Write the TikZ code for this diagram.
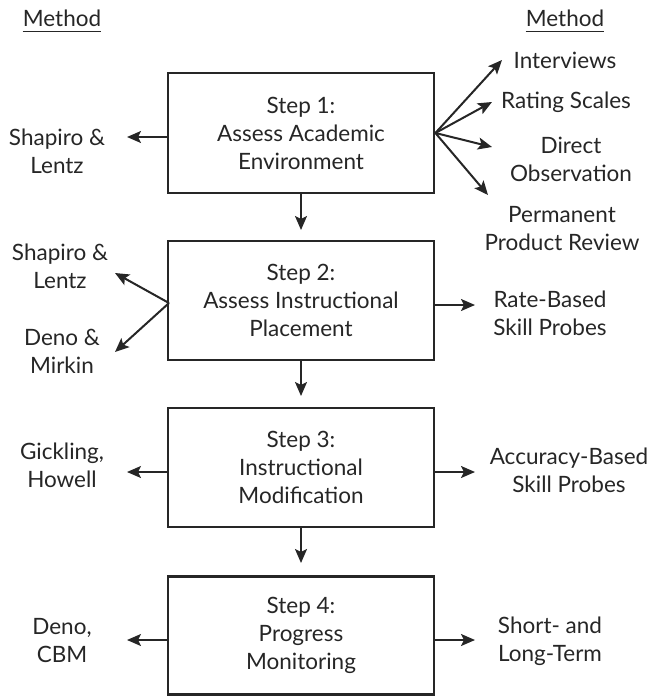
\documentclass[tikz,border=0pt]{standalone}
\usepackage{fontspec}
\setmainfont{Lato}
\usetikzlibrary{arrows.meta}
\begin{document}
\begin{tikzpicture}[x=1pt,y=-1pt,
  every node/.style={font=\fontsize{22.5}{28}\selectfont, text=black!85, align=center, inner sep=0pt},
  stepbox/.style={draw=black!85, line width=2.8pt, minimum width=266pt, inner sep=0pt},
  arr/.style={draw=black!85, line width=2pt, -{Stealth[length=14pt,width=12pt,inset=3pt]}}]
\useasboundingbox (0,0) rectangle (653,696);
% boxes
\node[stepbox, minimum height=120pt] (s1) at (301,133) {Step 1:\\Assess Academic\\Environment};
\node[stepbox, minimum height=119pt] (s2) at (301,300.5) {Step 2:\\Assess Instructional\\Placement};
\node[stepbox, minimum height=119pt] (s3) at (301,467.5) {Step 3:\\Instructional\\Modification};
\node[stepbox, minimum height=118pt] (s4) at (301,635.5) {Step 4:\\Progress\\Monitoring};
% headers
\node (mL) at (62,18) {Method};
\node (mR) at (565,18) {Method};
\draw[line width=1.2pt, black!85] ([yshift=-5pt]mL.south west) -- ([yshift=-5pt]mL.south east);
\draw[line width=1.2pt, black!85] ([yshift=-5pt]mR.south west) -- ([yshift=-5pt]mR.south east);
% labels
\node (l1) at (57,151) {Shapiro \&\\Lentz};
\node (r1a) at (565,60) {Interviews};
\node (r1b) at (566,102) {Rating Scales};
\node (r1c) at (571,159) {Direct\\Observation};
\node (r1d) at (562,229) {Permanent\\Product Review};
\node (l2a) at (60,266) {Shapiro \&\\Lentz};
\node (l2b) at (62,351) {Deno \&\\Mirkin};
\node (r2) at (550,313) {Rate-Based\\Skill Probes};
\node (l3) at (62,465) {Gickling,\\Howell};
\node (r3) at (569,470) {Accuracy-Based\\Skill Probes};
\node (l4) at (62,641) {Deno,\\CBM};
\node (r4) at (550,641) {Short- and\\Long-Term};
% tips
\coordinate (t1L) at (127,137);
\coordinate (t1a) at (502,60);
\coordinate (t1b) at (492,102);
\coordinate (t1c) at (492,147);
\coordinate (t1d) at (488,195);
\coordinate (o2L) at (169,303);
\coordinate (t2a) at (115,273);
\coordinate (t2b) at (115,352);
\coordinate (t2R) at (475,305);
\coordinate (t3L) at (127,472);
\coordinate (t3R) at (475,472);
\coordinate (t4L) at (127,640);
\coordinate (t4R) at (475,640);
\coordinate (d1) at (301,230);
\coordinate (d2) at (301,396);
\coordinate (d3) at (301,563);
% connectors
\draw[arr] (s1.west |- t1L) -- (t1L);
\draw[arr] (s1.east) -- (t1a);
\draw[arr] (s1.east) -- (t1b);
\draw[arr] (s1.east) -- (t1c);
\draw[arr] (s1.east) -- (t1d);
\draw[arr] (o2L) -- (t2a);
\draw[arr] (o2L) -- (t2b);
\draw[arr] (s2.east |- t2R) -- (t2R);
\draw[arr] (s3.west |- t3L) -- (t3L);
\draw[arr] (s3.east |- t3R) -- (t3R);
\draw[arr] (s4.west |- t4L) -- (t4L);
\draw[arr] (s4.east |- t4R) -- (t4R);
\draw[arr] (s1.south) -- (d1);
\draw[arr] (s2.south) -- (d2);
\draw[arr] (s3.south) -- (d3);
\end{tikzpicture}
\end{document}
